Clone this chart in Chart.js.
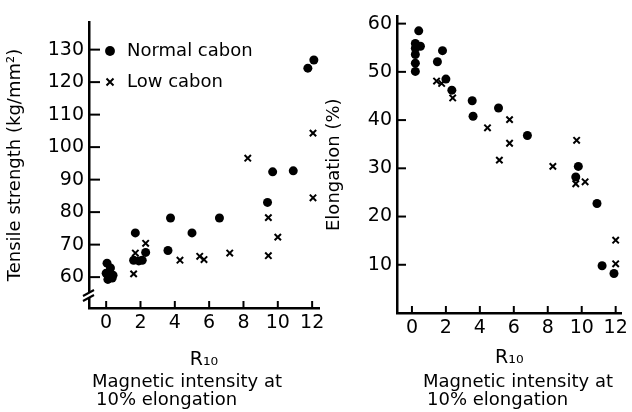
<!DOCTYPE html>
<html>
<head>
<meta charset="utf-8">
<script src="https://cdn.jsdelivr.net/npm/chart.js@4.4.1/dist/chart.umd.min.js"></script>
<style>
  html, body { margin: 0; padding: 0; background: #fff; }
  #wrap { position: relative; width: 632px; height: 412px; overflow: hidden; }
  #left { position: absolute; left: 0; top: 0; }
  #right { position: absolute; left: 320px; top: 0; }
</style>
</head>
<body>
<div id="wrap">
  <canvas id="left" width="340" height="412"></canvas>
  <canvas id="right" width="312" height="412"></canvas>
</div>
<script>
// tensile strength (left panel)
const tsNormalX = [0.05, 0.25, 0, 0.4, 0.35, 0.1, 1.6, 2.1, 1.9, 2.3, 1.7, 3.6, 3.75, 5.0, 6.6, 9.4, 9.7, 10.9, 11.75, 12.1];
const tsNormalY = [64.3, 62.8, 61.2, 60.6, 59.7, 59.3, 65.2, 65.2, 65.0, 67.6, 73.6, 68.2, 78.2, 73.6, 78.2, 83, 92.4, 92.7, 124.3, 126.8];
const tsLowX = [1.6, 1.7, 2.3, 4.3, 5.45, 5.7, 7.2, 8.25, 9.45, 10.0, 9.45, 12.05, 12.05];
const tsLowY = [61, 67.4, 70.4, 65.2, 66.4, 65.4, 67.4, 96.6, 78.3, 72.3, 66.6, 84.4, 104.3];

// elongation (right panel)
const elNormalX = [0.4, 0.2, 0.5, 0.2, 0.2, 0.2, 0.2, 1.8, 1.5, 2.0, 2.35, 3.55, 3.6, 5.1, 6.8, 9.8, 9.65, 10.9, 11.2, 11.9];
const elNormalY = [58.5, 55.9, 55.3, 54.9, 53.6, 51.8, 50.1, 54.4, 52.1, 48.5, 46.2, 44.0, 40.8, 42.5, 36.8, 30.4, 28.2, 22.7, 9.8, 8.2];
const elLowX = [1.45, 1.75, 2.4, 4.45, 5.75, 5.75, 5.15, 8.3, 9.7, 9.65, 10.2, 12.0, 12.0];
const elLowY = [48.1, 47.6, 44.6, 38.4, 40.1, 35.2, 31.7, 30.4, 35.8, 26.8, 27.2, 15.1, 10.2];

const xTicks = [0, 2, 4, 6, 8, 10, 12];
const tsTicks = [60, 70, 80, 90, 100, 110, 120, 130];
const elTicks = [10, 20, 30, 40, 50, 60];

const FONT = "'DejaVu Sans', sans-serif";

const pts = (xs, ys) => xs.map((x, i) => ({x: x, y: ys[i]}));

const dotSet = (label, data) => ({
  label: label, data: data, pointStyle: 'circle', pointRadius: 4.5,
  backgroundColor: '#000', borderColor: '#000', borderWidth: 0
});
const crossSet = (label, data) => ({
  label: label, data: data, pointStyle: 'crossRot', pointRadius: 4.5,
  backgroundColor: '#000', borderColor: '#000', borderWidth: 2
});

// inward tick marks, axis break and the caption under the x title
const decor = {
  id: 'decor',
  afterLayout(chart, args, opts) {
    // push the legend down into the plot, like the original
    const lg = chart.legend;
    if (lg && opts.legendDy) {
      lg.top += opts.legendDy; lg.bottom += opts.legendDy;
    }
  },
  afterDraw(chart, args, opts) {
    const ctx = chart.ctx, a = chart.chartArea;
    const xs = chart.scales.x, ys = chart.scales.y;
    ctx.save();
    ctx.strokeStyle = '#000';
    ctx.lineWidth = 2;
    ys.ticks.forEach(t => {
      const py = ys.getPixelForValue(t.value);
      ctx.beginPath(); ctx.moveTo(a.left, py); ctx.lineTo(a.left + opts.yTick, py); ctx.stroke();
    });
    xs.ticks.forEach(t => {
      const px = xs.getPixelForValue(t.value);
      ctx.beginPath(); ctx.moveTo(px, a.bottom); ctx.lineTo(px, a.bottom - 7); ctx.stroke();
    });
    if (opts.brk) {
      const by = a.bottom - 13;
      ctx.fillStyle = '#fff';
      ctx.fillRect(a.left - 3, by - 3, 6, 5);
      ctx.beginPath();
      ctx.moveTo(a.left - 6, by + 1); ctx.lineTo(a.left + 5, by - 5);
      ctx.moveTo(a.left - 6, by + 6); ctx.lineTo(a.left + 5, by);
      ctx.stroke();
    }
    ctx.fillStyle = '#000';
    ctx.font = '18px ' + FONT;
    ctx.textBaseline = 'middle';
    ctx.textAlign = 'left';
    ctx.fillText('Magnetic intensity at', opts.capX, 382);
    ctx.fillText('10% elongation', opts.capX + 4, 400);
    ctx.restore();
  }
};

function makeChart(id, cfg) {
  return new Chart(document.getElementById(id), {
    type: 'scatter',
    data: {datasets: cfg.datasets},
    plugins: [decor],
    options: {
      responsive: false,
      animation: false,
      layout: {padding: cfg.padding},
      plugins: {
        legend: cfg.legend,
        tooltip: {enabled: false},
        decor: cfg.decor
      },
      scales: {
        x: {
          type: 'linear', min: cfg.xMin, max: cfg.xMax,
          afterFit: s => { s.height = cfg.xH; },
          afterBuildTicks: s => { s.ticks = xTicks.map(v => ({value: v})); },
          grid: {display: true, drawOnChartArea: false, drawTicks: false},
          border: {display: true, color: '#000', width: 2.5},
          ticks: {color: '#000', padding: 4, font: {family: FONT, size: 19}},
          title: {display: true, text: 'R₁₀', color: '#000', padding: {top: 0, bottom: cfg.xTitlePad}, font: {family: FONT, size: 19}}
        },
        y: {
          type: 'linear', min: cfg.yMin, max: cfg.yMax,
          afterFit: s => { s.width = cfg.yW; },
          afterBuildTicks: s => { s.ticks = cfg.yTicks.map(v => ({value: v})); },
          grid: {display: true, drawOnChartArea: false, drawTicks: false},
          border: {display: true, color: '#000', width: 2.5},
          ticks: {color: '#000', padding: 5, font: {family: FONT, size: 19}},
          title: {display: true, text: cfg.yTitle, color: '#000', padding: {top: cfg.yTitlePad, bottom: 0}, font: {family: FONT, size: 18}}
        }
      }
    }
  });
}

makeChart('left', {
  datasets: [dotSet('Normal cabon', pts(tsNormalX, tsNormalY)), crossSet('Low cabon', pts(tsLowX, tsLowY))],
  padding: {top: 22, right: 21, bottom: 40, left: 0},
  xMin: -1, xMax: 12.4, xH: 64, xTitlePad: 1,
  yMin: 50.5, yMax: 138.5, yW: 89, yTicks: tsTicks, yTitlePad: 5,
  yTitle: 'Tensile strength (kg/mm²)',
  legend: {
    display: true, position: 'chartArea', align: 'start',
    labels: {usePointStyle: true, boxWidth: 16, boxHeight: 7, padding: 13, color: '#000', font: {family: FONT, size: 18}}
  },
  decor: {yTick: 11, brk: true, capX: 92, legendDy: 29}
});

makeChart('right', {
  datasets: [dotSet('Normal cabon', pts(elNormalX, elNormalY)), crossSet('Low cabon', pts(elLowX, elLowY))],
  padding: {top: 12, right: 9, bottom: 40, left: 0},
  xMin: -0.88, xMax: 12.35, xH: 59, xTitlePad: 3,
  yMin: 0, yMax: 61.5, yW: 77, yTicks: elTicks, yTitlePad: 4,
  yTitle: 'Elongation (%)',
  legend: {display: false},
  decor: {yTick: 9, brk: false, capX: 103, legendDy: 0}
});
</script>
</body>
</html>
